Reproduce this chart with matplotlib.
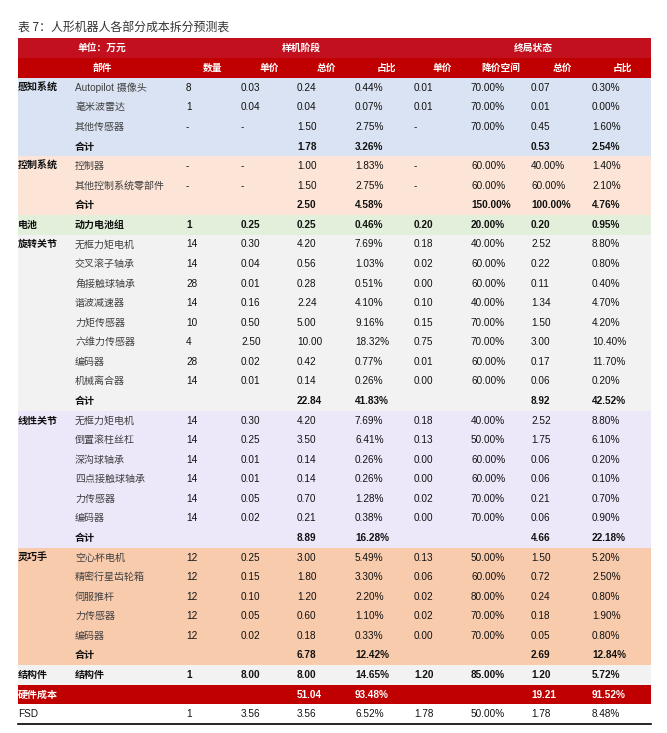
import matplotlib
matplotlib.use("Agg")
import matplotlib.pyplot as plt
import numpy as np

plt.rcParams['font.family'] = ['Liberation Sans', 'Noto Sans CJK SC', 'DejaVu Sans']

title = "表 7：人形机器人各部分成本拆分预测表"

# table contents, one list per column
groups = ["感知系统", "", "", "",
          "控制系统", "", "",
          "电池",
          "旋转关节", "", "", "", "", "", "", "", "",
          "线性关节", "", "", "", "", "", "",
          "灵巧手", "", "", "", "", "",
          "结构件", "硬件成本", "FSD"]
parts = ["Autopilot 摄像头", "毫米波雷达", "其他传感器", "合计",
         "控制器", "其他控制系统零部件", "合计",
         "动力电池组",
         "无框力矩电机", "交叉滚子轴承", "角接触球轴承", "谐波减速器", "力矩传感器",
         "六维力传感器", "编码器", "机械离合器", "合计",
         "无框力矩电机", "倒置滚柱丝杠", "深沟球轴承", "四点接触球轴承", "力传感器", "编码器", "合计",
         "空心杯电机", "精密行星齿轮箱", "伺服推杆", "力传感器", "编码器", "合计",
         "结构件", "", ""]
qty = ["8", "1", "-", "",
       "-", "-", "",
       "1",
       "14", "14", "28", "14", "10", "4", "28", "14", "",
       "14", "14", "14", "14", "14", "14", "",
       "12", "12", "12", "12", "12", "",
       "1", "", "1"]
price = ["0.03", "0.04", "-", "",
         "-", "-", "",
         "0.25",
         "0.30", "0.04", "0.01", "0.16", "0.50", "2.50", "0.02", "0.01", "",
         "0.30", "0.25", "0.01", "0.01", "0.05", "0.02", "",
         "0.25", "0.15", "0.10", "0.05", "0.02", "",
         "8.00", "", "3.56"]
total = ["0.24", "0.04", "1.50", "1.78",
         "1.00", "1.50", "2.50",
         "0.25",
         "4.20", "0.56", "0.28", "2.24", "5.00", "10.00", "0.42", "0.14", "22.84",
         "4.20", "3.50", "0.14", "0.14", "0.70", "0.21", "8.89",
         "3.00", "1.80", "1.20", "0.60", "0.18", "6.78",
         "8.00", "51.04", "3.56"]
share = ["0.44%", "0.07%", "2.75%", "3.26%",
         "1.83%", "2.75%", "4.58%",
         "0.46%",
         "7.69%", "1.03%", "0.51%", "4.10%", "9.16%", "18.32%", "0.77%", "0.26%", "41.83%",
         "7.69%", "6.41%", "0.26%", "0.26%", "1.28%", "0.38%", "16.28%",
         "5.49%", "3.30%", "2.20%", "1.10%", "0.33%", "12.42%",
         "14.65%", "93.48%", "6.52%"]
price_end = ["0.01", "0.01", "-", "",
             "-", "-", "",
             "0.20",
             "0.18", "0.02", "0.00", "0.10", "0.15", "0.75", "0.01", "0.00", "",
             "0.18", "0.13", "0.00", "0.00", "0.02", "0.00", "",
             "0.13", "0.06", "0.02", "0.02", "0.00", "",
             "1.20", "", "1.78"]
cut = ["70.00%", "70.00%", "70.00%", "",
       "60.00%", "60.00%", "150.00%",
       "20.00%",
       "40.00%", "60.00%", "60.00%", "40.00%", "70.00%", "70.00%", "60.00%", "60.00%", "",
       "40.00%", "50.00%", "60.00%", "60.00%", "70.00%", "70.00%", "",
       "50.00%", "60.00%", "80.00%", "70.00%", "70.00%", "",
       "85.00%", "", "50.00%"]
total_end = ["0.07", "0.01", "0.45", "0.53",
             "40.00%", "60.00%", "100.00%",
             "0.20",
             "2.52", "0.22", "0.11", "1.34", "1.50", "3.00", "0.17", "0.06", "8.92",
             "2.52", "1.75", "0.06", "0.06", "0.21", "0.06", "4.66",
             "1.50", "0.72", "0.24", "0.18", "0.05", "2.69",
             "1.20", "19.21", "1.78"]
share_end = ["0.30%", "0.00%", "1.60%", "2.54%",
             "1.40%", "2.10%", "4.76%",
             "0.95%",
             "8.80%", "0.80%", "0.40%", "4.70%", "4.20%", "10.40%", "11.70%", "0.20%", "42.52%",
             "8.80%", "6.10%", "0.20%", "0.10%", "0.70%", "0.90%", "22.18%",
             "5.20%", "2.50%", "0.80%", "1.90%", "0.80%", "12.84%",
             "5.72%", "91.52%", "8.48%"]

# background colour per section
sections = ["感知系统", "控制系统", "电池", "旋转关节", "线性关节", "灵巧手", "结构件", "硬件成本", "FSD"]
sec_rows = [4, 3, 1, 9, 7, 6, 1, 1, 1]
sec_colors = ["#DAE3F3", "#FCE4D6", "#E2EFDA", "#F2F2F2", "#EDE7FA", "#F8CBAD", "#F2F2F2", "#C00000", "#FFFFFF"]

head2 = ["部件", "数量", "单价", "总价", "占比", "单价", "降价空间", "总价", "占比"]

fig = plt.figure(figsize=(6.67, 7.33), dpi=100)
ax = fig.add_axes([0, 0, 1, 1])
ax.set_xlim(0, 667)
ax.set_ylim(733, 0)
ax.axis('off')

left, right = 18, 651
top = 78
rh = (724 - top) / 33
n = len(parts)
yc = top + rh * (np.arange(n) + 0.5)

row_col = np.repeat(sec_colors, sec_rows)
ax.barh(yc, right - left, left=left, height=rh, color=row_col, linewidth=0)

# header
ax.barh(48, right - left, left=left, height=20, color="#C3101F", linewidth=0)
ax.barh(68, right - left, left=left, height=20, color="#C00000", linewidth=0)
ax.text(left, 28, title, fontsize=8.6, color="#333333", va='center', family=['Noto Sans CJK SC'])
hkw = dict(color='white', fontsize=7, fontweight='bold', va='center', ha='center')
ax.text(102, 48, "单位：万元", **hkw)
ax.text(301, 48, "样机阶段", **hkw)
ax.text(533, 48, "终局状态", **hkw)
hx = [102, 213, 269, 326, 386, 442, 501, 562, 622]
for x, h in zip(hx, head2):
    ax.text(x, 68, h, **hkw)

cols_x = [186, 241, 297, 355, 414, 471, 531, 592]
bold_rows = set(i for i, p in enumerate(parts) if p == "合计") | {7, 30, 31}
for i in range(n):
    bold = i in bold_rows
    fw = 'bold' if bold else 'normal'
    txt_c = 'white' if groups[i] == "硬件成本" else '#111111'
    y = yc[i]
    if groups[i]:
        gw = 'normal' if groups[i] == "FSD" else 'bold'
        ax.text(left, y, groups[i], fontsize=7.2, fontweight=gw, color=txt_c, va='center')
    if parts[i]:
        pc = '#111111' if bold else '#404040'
        ax.text(75, y, parts[i], fontsize=7.2, fontweight=fw, color=pc, va='center')
    vals = [qty[i], price[i], total[i], share[i], price_end[i], cut[i], total_end[i], share_end[i]]
    for x, v in zip(cols_x, vals):
        if v:
            ax.text(x, y, v, fontsize=7.2, fontweight=fw, color=txt_c, va='center')

ax.plot([left, right], [724, 724], color='black', lw=1.2)

fig.savefig("out.png", dpi=100)
